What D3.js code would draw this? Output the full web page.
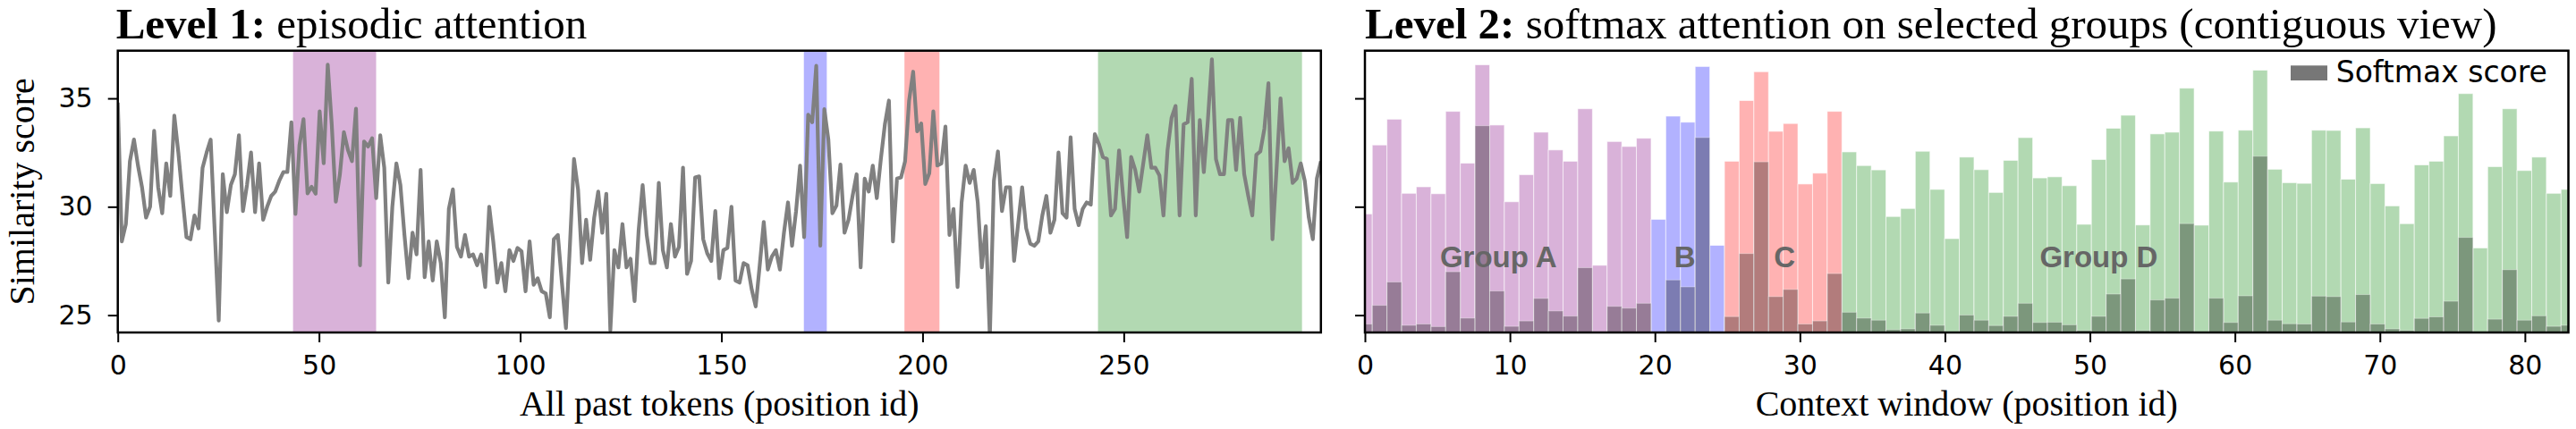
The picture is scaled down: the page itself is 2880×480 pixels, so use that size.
<!DOCTYPE html>
<html><head><meta charset="utf-8">
<script src="https://cdn.jsdelivr.net/npm/d3@7"></script>
<style>html,body{margin:0;padding:0;background:#fff;} svg{display:block;}</style>
</head><body><svg id="chart" width="2880" height="480"></svg>
<script>
// ---- data ----
const similarityScores = [
  34.8, 28.4, 29.2, 32.1, 33.1, 31.9, 30.9, 29.5, 30.0, 33.5,
  30.9, 29.7, 32.0, 30.5, 34.2, 32.5, 30.5, 28.6, 28.5, 29.6,
  29.0, 31.8, 32.5, 33.1, 28.9, 24.75, 31.5, 29.75, 31.0, 31.5,
  33.3, 29.8, 31.0, 32.5, 29.75, 32.0, 29.4, 30.0, 30.5, 30.7,
  31.2, 31.6, 31.6, 33.9, 29.67, 32.85, 34.04, 30.62, 30.92, 30.6,
  34.4, 32.01, 36.55, 33.77, 30.23, 31.48, 33.44, 32.62, 32.1, 34.52,
  27.3, 33.01, 32.78, 33.16, 30.4, 33.3, 31.8, 26.5, 30.0, 32.0,
  31.0, 28.7, 26.7, 28.8, 27.8, 31.7, 26.75, 28.4, 26.6, 28.4,
  27.4, 24.9, 29.9, 30.8, 28.15, 27.7, 28.7, 27.7, 27.8, 27.3,
  27.8, 26.3, 30.0, 28.4, 26.5, 27.4, 26.1, 28.0, 27.5, 28.1,
  27.95, 26.1, 28.4, 26.4, 26.7, 26.1, 26.0, 24.9, 28.5, 28.7,
  26.5, 24.4, 28.3, 32.2, 30.8, 27.4, 29.4, 27.55, 29.5, 30.7,
  28.8, 30.6, 24.3, 28.0, 27.2, 29.2, 27.2, 27.6, 25.65, 28.9,
  31.0, 28.7, 27.4, 27.4, 31.1, 28.0, 27.2, 29.2, 27.7, 28.15,
  31.8, 26.9, 27.5, 31.35, 31.4, 28.5, 27.85, 27.5, 29.8,
  26.7, 28.0, 28.1, 30.0, 26.6, 26.5, 27.4, 27.3, 26.2, 25.4,
  27.3, 29.3, 27.1, 27.7, 28.0, 27.1, 28.8, 30.2, 28.2, 29.8,
  31.9, 28.6, 34.25, 33.9, 36.5, 28.2, 34.5, 33.1, 29.7, 30.05,
  31.95, 28.8, 29.4, 30.5, 31.5, 27.2, 31.3, 30.7, 31.9, 30.4,
  32.2, 33.8, 34.9, 28.4, 31.3, 31.35, 32.1, 34.9, 36.23, 33.48,
  33.84, 31.05, 31.55, 34.4, 31.9, 32.0, 33.7, 28.7, 29.9, 26.3,
  30.2, 31.9, 31.1, 31.7, 30.2, 27.2, 29.1, 24.0, 31.2, 32.55,
  29.8, 30.9, 30.9, 27.5, 29.2, 30.9, 29.0, 28.3, 28.2, 28.4,
  29.6, 30.5, 28.8, 29.4, 32.5, 29.7, 29.5, 33.2, 29.9, 29.15,
  29.9, 30.2, 30.1, 33.35, 32.9, 32.3, 32.2, 29.6, 29.9, 32.6,
  30.5, 28.6, 32.3, 31.7, 30.7, 32.0, 33.3, 31.8, 31.8, 31.45,
  29.6, 32.6, 34.1, 34.65, 29.6, 33.8, 33.9, 35.9, 29.6, 34.0,
  31.6, 34.0, 36.8, 32.2, 31.5, 31.5, 34.0, 34.0, 31.7, 34.1,
  31.5, 30.5, 29.6, 32.4, 32.55, 33.6, 35.7, 28.5, 31.7, 35.0,
  32.1, 32.7, 31.1, 31.3, 32.0, 31.2, 29.5, 28.5, 31.3, 32.1
];

const groupNames = ["Group A", "B", "C", "Group D"];
const groupColors = ["#800080", "#0000ff", "#ff0000", "#008000"];
const groupSpanStart = [43.55, 170.5, 195.5, 243.6];
const groupSpanEnd = [64.2, 176.2, 204.2, 294.3];
const groupBarFirst = [0, 20, 25, 33];
const groupBarLast = [19, 24, 32, 82];
const groupLabelPos = [9.1, 21.8, 28.6, 50.0];
const groupLabelY = 27.7;

const windowScores = [
  29.67, 32.85, 34.04, 30.62, 30.92, 30.6, 34.4, 32.01, 36.55, 33.77,
  30.23, 31.48, 33.44, 32.62, 32.1, 34.52, 27.3, 33.01, 32.78, 33.16,
  29.42, 34.18, 33.9, 36.47, 28.22,
  32.1, 34.9, 36.23, 33.48, 33.84, 31.05, 31.55, 34.4,
  32.53, 31.9, 31.7, 29.55, 29.92, 32.56, 30.8, 28.53, 32.29, 31.71,
  30.66, 32.14, 33.19, 31.33, 31.38, 30.97, 29.19, 32.18, 33.62, 34.22,
  29.16, 33.36, 33.44, 35.47, 29.15, 33.49, 31.14, 33.53, 36.3, 31.73,
  31.11, 31.08, 33.53, 33.52, 31.27, 33.64, 31.07, 30.04, 29.22, 31.93,
  32.1, 33.27, 35.22, 28.1, 31.85, 34.52, 31.67, 32.29, 30.62, 30.8
];

const softmaxScores = [
  0.0033, 0.0106, 0.0197, 0.0028, 0.0033, 0.0023, 0.0237, 0.0056, 0.0807, 0.0162,
  0.0024, 0.0045, 0.0133, 0.0084, 0.0064, 0.0253, 0.0001, 0.0102, 0.0095, 0.0114,
  0.0002, 0.0205, 0.0178, 0.0761, 0.0001,
  0.0062, 0.0308, 0.0666, 0.0140, 0.0168, 0.0033, 0.0045, 0.0230,
  0.0079, 0.0056, 0.0048, 0.0011, 0.0014, 0.0076, 0.0028, 0.0002, 0.0068, 0.0048,
  0.0027, 0.0063, 0.0114, 0.0039, 0.0040, 0.0030, 0.0008, 0.0063, 0.0150, 0.0209,
  0.0008, 0.0127, 0.0134, 0.0425, 0.0002, 0.0134, 0.0039, 0.0143, 0.0688, 0.0048,
  0.0034, 0.0033, 0.0142, 0.0140, 0.0041, 0.0148, 0.0033, 0.0014, 0.0008, 0.0055,
  0.0061, 0.0122, 0.0371, 0.0002, 0.0052, 0.0245, 0.0048, 0.0065, 0.0024, 0.0028
];

const leftXTicks = [0, 50, 100, 150, 200, 250];
const rightXTicks = [0, 10, 20, 30, 40, 50, 60, 70, 80];
const yTicks = [25, 30, 35];

// ---- layout ----
const svg = d3.select("#chart");
svg.append("rect").attr("width", 2880).attr("height", 480).attr("fill", "#fff");

const plotTop = 56.7, plotBottom = 372;
const leftRange = [131.7, 1476.8], rightRange = [1526, 2871.5];
const yScale = d3.scaleLinear().domain([24.2, 37.2]).range([plotBottom, plotTop]);
const softScale = d3.scaleLinear().domain([0, 0.11]).range([plotBottom, plotTop]);
// points are spread over the position axis [0, N]
const xLeftAxis = d3.scaleLinear().domain([0, similarityScores.length]).range(leftRange);
const xLine = d3.scaleLinear().domain([0, similarityScores.length - 1]).range(leftRange);
const xRightAxis = d3.scaleLinear().domain([0, windowScores.length]).range(rightRange);
const xBars = d3.scaleLinear().domain([0, windowScores.length - 1]).range(rightRange);

const serif = "'Liberation Serif', 'Times New Roman', serif";
const sans = "'DejaVu Sans', sans-serif";

const defs = svg.append("defs");
function clip(id, r) {
  defs.append("clipPath").attr("id", id).append("rect")
    .attr("x", r[0]).attr("y", plotTop).attr("width", r[1] - r[0]).attr("height", plotBottom - plotTop);
}
clip("clipL", leftRange);
clip("clipR", rightRange);

// ---- left panel ----
const gL = svg.append("g").attr("clip-path", "url(#clipL)");
groupNames.forEach((name, g) => {
  gL.append("rect")
    .attr("x", xLeftAxis(groupSpanStart[g]))
    .attr("width", xLeftAxis(groupSpanEnd[g]) - xLeftAxis(groupSpanStart[g]))
    .attr("y", plotTop).attr("height", plotBottom - plotTop)
    .attr("fill", groupColors[g]).attr("fill-opacity", 0.3);
});
const line = d3.line().x((d, i) => xLine(i)).y(d => yScale(d));
gL.append("path").datum(similarityScores)
  .attr("d", line).attr("fill", "none").attr("stroke", "#808080")
  .attr("stroke-width", 4.2).attr("stroke-linejoin", "round").attr("stroke-linecap", "butt");

// ---- right panel ----
const gR = svg.append("g").attr("clip-path", "url(#clipR)");
const bw = xBars(1) - xBars(0);
function groupOf(i) {
  for (let g = 0; g < groupBarFirst.length; g++) if (i >= groupBarFirst[g] && i <= groupBarLast[g]) return g;
  return 0;
}
gR.selectAll("rect.win").data(windowScores).enter().append("rect")
  .attr("class", "win")
  .attr("x", (d, i) => xBars(i - 0.5)).attr("width", bw)
  .attr("y", d => yScale(d)).attr("height", d => plotBottom - yScale(d))
  .attr("fill", (d, i) => groupColors[groupOf(i)]).attr("fill-opacity", 0.3)
  .attr("stroke", "#fff").attr("stroke-opacity", 0.6).attr("stroke-width", 1);
gR.selectAll("rect.soft").data(softmaxScores).enter().append("rect")
  .attr("class", "soft")
  .attr("x", (d, i) => xBars(i - 0.5)).attr("width", bw)
  .attr("y", d => softScale(d)).attr("height", d => plotBottom - softScale(d))
  .attr("fill", "#000").attr("fill-opacity", 0.3)
  .attr("stroke", "#fff").attr("stroke-opacity", 0.35).attr("stroke-width", 1);

groupNames.forEach((name, g) => {
  svg.append("text")
    .attr("x", xBars(groupLabelPos[g])).attr("y", yScale(groupLabelY) + 12)
    .attr("text-anchor", "middle")
    .attr("font-family", "'Liberation Sans', Arial, sans-serif")
    .attr("font-weight", "bold").attr("font-size", 33).attr("fill", "#666")
    .text(name);
});

// legend
svg.append("rect").attr("x", 2561).attr("y", 73.3).attr("width", 41).attr("height", 16.7).attr("fill", "#777");
svg.append("text").attr("x", 2611.7).attr("y", 92).attr("font-family", sans)
  .attr("font-size", 33).attr("fill", "#000").text("Softmax score");

// ---- axes ----
function styleAxis(sel) {
  sel.select(".domain").remove();
  sel.selectAll(".tick line").attr("stroke", "#000").attr("stroke-width", 2);
  sel.selectAll(".tick text").attr("font-family", sans).attr("font-size", 30).attr("fill", "#000");
}
svg.append("g").attr("transform", `translate(0,${plotBottom})`)
  .call(d3.axisBottom(xLeftAxis).tickValues(leftXTicks).tickFormat(d3.format("d")).tickSize(11).tickPadding(15))
  .call(styleAxis);
svg.append("g").attr("transform", `translate(0,${plotBottom})`)
  .call(d3.axisBottom(xRightAxis).tickValues(rightXTicks).tickFormat(d3.format("d")).tickSize(11).tickPadding(15))
  .call(styleAxis);
svg.append("g").attr("transform", `translate(${leftRange[0]},0)`)
  .call(d3.axisLeft(yScale).tickValues(yTicks).tickFormat(d3.format("d")).tickSize(11).tickPadding(17))
  .call(styleAxis);
svg.append("g").attr("transform", `translate(${rightRange[0]},0)`)
  .call(d3.axisLeft(yScale).tickValues(yTicks).tickFormat("").tickSize(11))
  .call(styleAxis);

// spines
[leftRange, rightRange].forEach(r => {
  svg.append("rect").attr("x", r[0]).attr("y", plotTop)
    .attr("width", r[1] - r[0]).attr("height", plotBottom - plotTop)
    .attr("fill", "none").attr("stroke", "#000").attr("stroke-width", 2.5);
});

// titles
function title(x, bold, rest) {
  const t = svg.append("text").attr("x", x).attr("y", 43)
    .attr("font-family", serif).attr("font-size", 49).attr("fill", "#000");
  t.append("tspan").attr("font-weight", "bold").text(bold);
  t.append("tspan").text(rest);
}
title(leftRange[0] - 2, "Level 1:", " episodic attention");
title(rightRange[0], "Level 2:", " softmax attention on selected groups (contiguous view)");

// axis labels
svg.append("text").attr("x", (leftRange[0] + leftRange[1]) / 2).attr("y", 465)
  .attr("text-anchor", "middle").attr("font-family", serif).attr("font-size", 40)
  .text("All past tokens (position id)");
svg.append("text").attr("x", (rightRange[0] + rightRange[1]) / 2).attr("y", 465)
  .attr("text-anchor", "middle").attr("font-family", serif).attr("font-size", 40)
  .text("Context window (position id)");
svg.append("text").attr("transform", `translate(38,${(plotTop + plotBottom) / 2}) rotate(-90)`)
  .attr("text-anchor", "middle").attr("font-family", serif).attr("font-size", 40)
  .text("Similarity score");
</script></body></html>
